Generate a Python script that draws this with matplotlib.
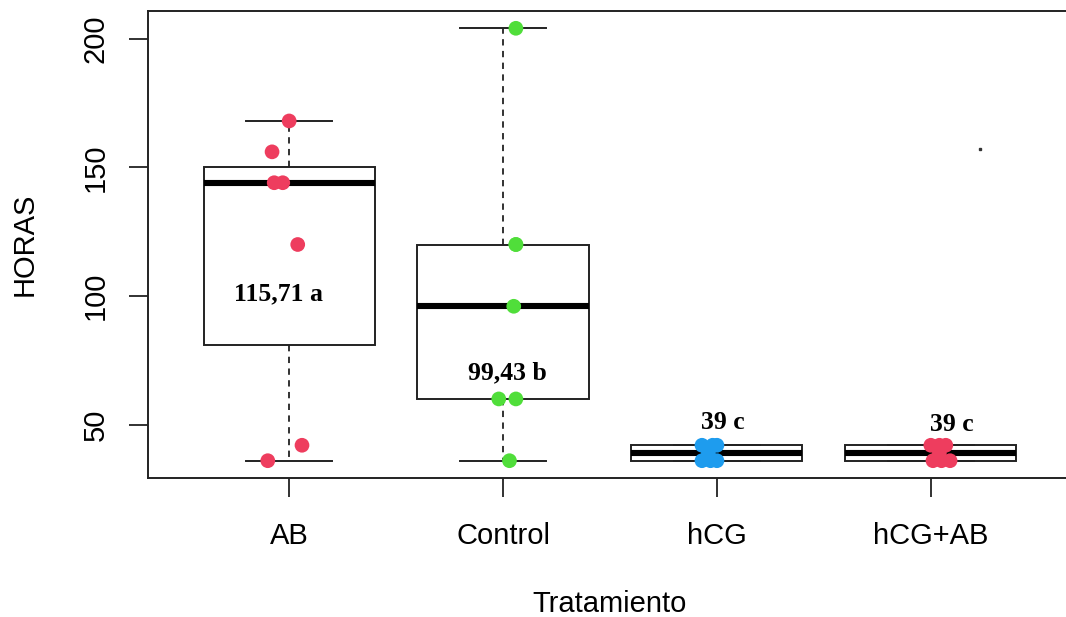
import matplotlib
matplotlib.use('Agg')
import matplotlib.pyplot as plt
import numpy as np

plt.rcParams['font.family'] = ['Liberation Sans', 'DejaVu Sans']

GROUPS = ['AB', 'Control', 'hCG', 'hCG+AB']
COLORS = ['#EE3D5E', '#50DE3A', '#1E9CEE', '#EE3D5E']

# horas por tratamiento
ab = [168, 156, 144, 144, 120, 42, 36]
control = [204, 120, 120, 96, 60, 60, 36]
hcg = [42, 42, 42, 39, 36, 36, 36]
hcg_ab = [42, 42, 42, 39, 36, 36, 36]

# desplazamiento horizontal (jitter) de cada punto
ab_dx = [0.0, -0.08, -0.07, -0.03, 0.04, 0.06, -0.10]
control_dx = [0.06, 0.06, 0.06, 0.05, -0.02, 0.06, 0.03]
hcg_dx = [-0.07, -0.02, 0.0, -0.04, -0.07, -0.03, 0.0]
hcg_ab_dx = [0.0, 0.04, 0.07, 0.04, 0.01, 0.05, 0.09]

# medias y letras
labels = ['115,71 a', '99,43 b', '39 c', '39 c']
label_dx = [-0.05, 0.02, 0.03, 0.10]
label_y = [101, 70, 51, 50]

data = [ab, control, hcg, hcg_ab]
jitter = [ab_dx, control_dx, hcg_dx, hcg_ab_dx]

fig = plt.figure(figsize=(10.66, 6.17), dpi=100)
ax = fig.add_axes([148 / 1066, 1 - 478 / 617, 924 / 1066, 467 / 617])

pos = np.arange(1, len(GROUPS) + 1)
ax.boxplot(data, positions=pos, widths=0.8, whis=1.5, patch_artist=True,
           showfliers=False,
           boxprops=dict(facecolor='white', edgecolor='#222222', linewidth=1.4),
           medianprops=dict(color='black', linewidth=4.4, solid_capstyle='butt'),
           whiskerprops=dict(color='#222222', linewidth=1.3, linestyle=(0, (3.5, 3))),
           capprops=dict(color='#222222', linewidth=1.4),
           capwidths=0.4)

for i in range(len(GROUPS)):
    ax.scatter(pos[i] + np.array(jitter[i]), data[i], s=112, color=COLORS[i],
               edgecolors='none', zorder=5)
    ax.text(pos[i] + label_dx[i], label_y[i], labels[i], ha='center', va='center',
            family=['Liberation Serif'], fontweight='bold', fontsize=18.5, zorder=6)

# pequeno punto suelto del original
ax.plot([4.23], [157], marker='s', markersize=1.5, color='#333333', linestyle='none')

ax.set_xlim(0.34, 4.66)
ax.set_ylim(29.28, 210.72)
ax.set_xticks(pos)
ax.set_xticklabels(GROUPS)
ax.set_yticks([50, 100, 150, 200])
ax.set_yticklabels(['50', '100', '150', '200'], rotation=90, va='center')
ax.tick_params(axis='both', labelsize=21, length=13.5, width=1.3, color='#222222')
ax.tick_params(axis='x', pad=18)
ax.tick_params(axis='y', pad=14)
for s in ax.spines.values():
    s.set_linewidth(1.4)
    s.set_color('#222222')

fig.text(610 / 1066, 1 - 604 / 617, 'Tratamiento', ha='center', va='center', fontsize=21)
fig.text(25 / 1066, 1 - 244 / 617, 'HORAS', ha='center', va='center', rotation=90, fontsize=21)

fig.savefig('out.png', dpi=100)
